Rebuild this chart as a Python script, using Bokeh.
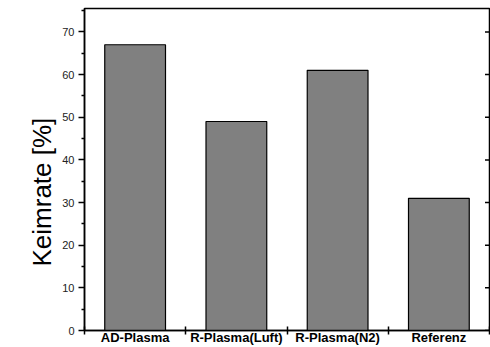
from bokeh.plotting import figure
from bokeh.models import Range1d, FixedTicker, ColumnDataSource, Title
from bokeh.embed import file_html
from bokeh.resources import INLINE

categories = ["AD-Plasma", "R-Plasma(Luft)", "R-Plasma(N2)", "Referenz"]
keimrate = [67, 49, 61, 31]
y_ticks = [0, 10, 20, 30, 40, 50, 60, 70]
y_label = "Keimrate [%]"

xpos = [i + 0.5 for i in range(len(categories))]
src = ColumnDataSource(dict(x=xpos, top=keimrate))

p = figure(width=490, height=347, output_backend="svg", toolbar_location=None,
           title=None,
           x_range=Range1d(0, len(categories)), y_range=Range1d(0, 75.5),
           min_border_left=84, min_border_right=1, min_border_top=8, min_border_bottom=5)
p.vbar(x="x", top="top", width=0.6, source=src, fill_color="#808080",
       line_color="black", line_width=1.2)

# inward ticks on the right frame edge
p.scatter(x=[len(categories)] * len(y_ticks), y=y_ticks, marker="dash", size=9,
          line_color="black", line_width=1.5)

p.grid.visible = False
p.outline_line_color = "black"
p.outline_line_width = 1.5
p.background_fill_color = "white"
p.border_fill_color = "white"

# x axis
xa = p.xaxis[0]
xa.ticker = FixedTicker(ticks=xpos, minor_ticks=list(range(len(categories) + 1)))
xa.major_label_overrides = {x: c for x, c in zip(xpos, categories)}
xa.major_tick_line_color = None
xa.major_tick_in = 0
xa.major_tick_out = 0
xa.minor_tick_in = 4
xa.minor_tick_out = 4
xa.minor_tick_line_width = 1.5
xa.minor_tick_line_color = "black"
xa.axis_line_width = 1.5
xa.major_label_text_font = "Liberation Sans"
xa.major_label_text_font_style = "bold"
xa.major_label_text_font_size = "13px"
xa.major_label_text_color = "black"
xa.major_label_standoff = -5

# y axis
ya = p.yaxis[0]
ya.ticker = FixedTicker(ticks=y_ticks, minor_ticks=[v + 5 for v in y_ticks])
ya.major_tick_out = 6
ya.major_tick_in = 0
ya.minor_tick_out = 3
ya.minor_tick_in = 0
ya.major_tick_line_width = 1.5
ya.minor_tick_line_width = 1.5
ya.axis_line_width = 1.5
ya.major_label_text_font = "Liberation Sans"
ya.major_label_text_font_size = "11px"
ya.major_label_text_color = "#222222"
ya.major_label_standoff = 4

# y axis title as a left-side title, shifted a little below the frame centre
t = Title(text=y_label, align="left", offset=64, standoff=6,
          text_font="Liberation Sans", text_font_size="26px",
          text_font_style="normal", text_color="black")
p.add_layout(t, "left")

open("out.html", "w").write(file_html(p, INLINE))
